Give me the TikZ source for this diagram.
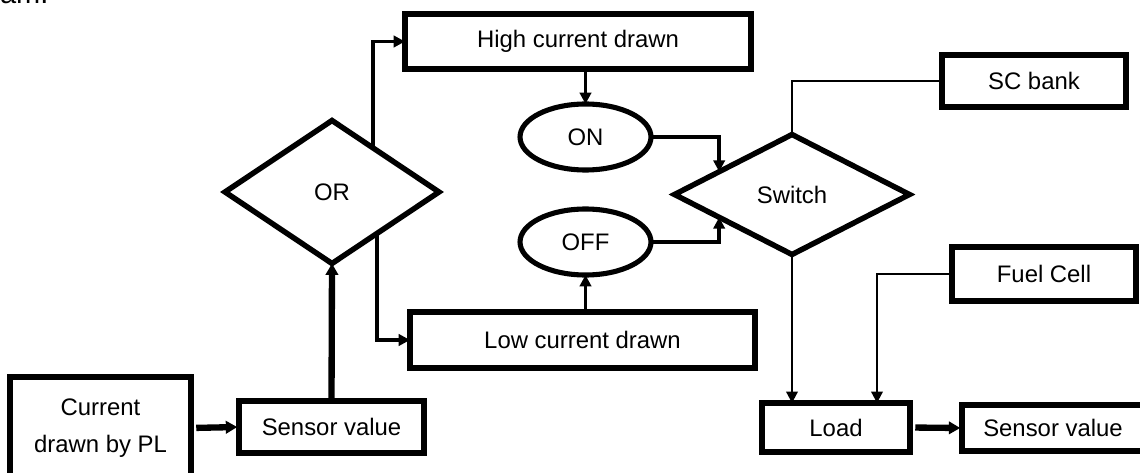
\documentclass[tikz,border=0pt]{standalone}
\usepackage{fontspec}
\setmainfont{Liberation Sans}
\usetikzlibrary{arrows.meta,shapes.geometric,calc}

\begin{document}
\begin{tikzpicture}[x=0.02cm,y=-0.02cm,
  every node/.style={font=\fontsize{13.6}{21}\selectfont, inner sep=0pt, outer sep=0pt},
  box/.style={draw, line width=2.9pt, rectangle, align=center},
  oval/.style={draw, line width=2.9pt, ellipse, minimum width=2.62cm, minimum height=1.32cm},
  gate/.style={draw, line width=3.1pt, diamond},
  tip/.style={-{Triangle[length=6.5pt,width=6.5pt]}},
  link/.style={tip, line width=2.1pt},
  heavy/.style={-{Triangle[length=6.5pt,width=7pt]}, line width=3.6pt},
  wire/.style={line width=1.3pt},
  wirearrow/.style={tip, line width=1.3pt}
]
\useasboundingbox (0,0) rectangle (1140,473);

% caption fragment above the figure
\node[anchor=base west, font=\fontsize{16.5}{20}\selectfont] (cap) at (0,4) {am.};

% input side
\node[box, minimum width=3.62cm, minimum height=2.04cm] (cur) at (100.5,428) {Current\\drawn by PL};
\node[box, minimum width=3.7cm, minimum height=1.04cm] (sv1) at (331.5,427) {Sensor value};

% decision on the sensed value
\node[gate, minimum width=4.28cm, minimum height=2.86cm] (or) at (332,192) {OR};
\node[box, minimum width=6.92cm, minimum height=1.1cm] (high) at (578,41.5) {High current drawn};
\node[box, minimum width=6.9cm, minimum height=1.12cm] (low) at (582.5,340) {Low current drawn};

\node[oval] (on) at (585.5,137) {ON};
\node[oval] (off) at (585.5,242) {OFF};

% switching stage
\node[gate, minimum width=4.7cm, minimum height=2.4cm] (sw) at (792,194.5) {Switch};
\node[box, minimum width=3.68cm, minimum height=1.04cm] (sc) at (1034,81) {SC bank};
\node[box, minimum width=3.68cm, minimum height=1.08cm] (fc) at (1044,274) {Fuel Cell};
\node[box, minimum width=2.96cm, minimum height=0.98cm] (load) at (836,427.5) {Load};
\node[box, minimum width=3.64cm, minimum height=0.92cm] (sv2) at (1053,428) {Sensor value};

% connectors
\draw[heavy, shorten <=3pt, shorten >=1pt] (cur.east) -- (sv1.west);
\draw[heavy] (sv1.north) -- (or.south);
\draw[link] ($(or.north)!0.38!(or.east)$) |- (high.west);
\draw[link] ($(or.south)!0.42!(or.east)$) |- (low.west);
\draw[link] (on.north |- high.south) -- (on.north);
\draw[link] (off.south |- low.north) -- (off.south);
\draw[link] (on.east) -| ($(sw.west)!0.38!(sw.north)$);
\draw[link] (off.east) -| ($(sw.west)!0.38!(sw.south)$);
\draw[wire] (sc.west) -| (sw.north);
\draw[wirearrow] (sw.south) -- (sw.south |- load.north);
\coordinate (fcin) at ($(load.north)+(41,0)$);
\draw[wirearrow] (fc.west) -| (fcin);
\draw[heavy, shorten <=3pt, shorten >=1pt] (load.east) -- (sv2.west);
\end{tikzpicture}
\end{document}
